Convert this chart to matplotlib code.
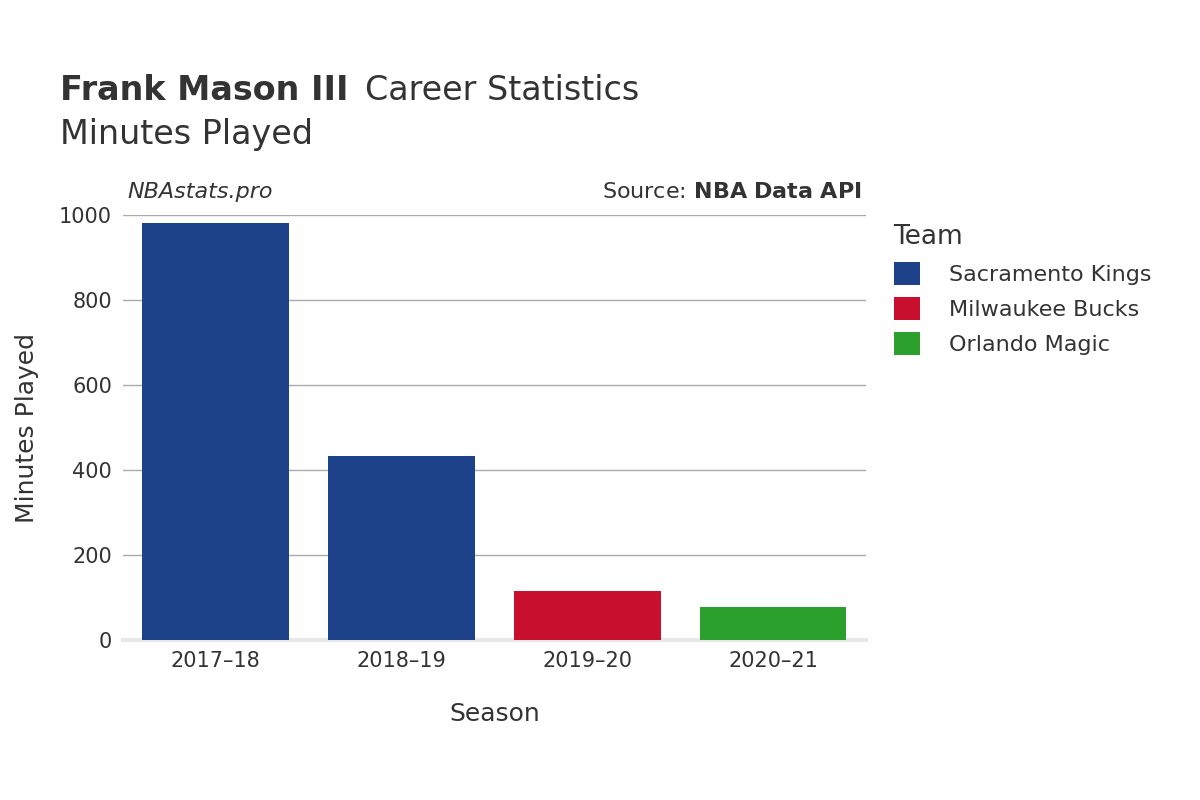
import matplotlib

matplotlib.use("Agg")
import matplotlib.pyplot as plt
from matplotlib.patches import Patch

seasons = ["2017–18", "2018–19", "2019–20", "2020–21"]
minutes = [981, 433, 115, 78]
teams = ["Sacramento Kings", "Sacramento Kings", "Milwaukee Bucks", "Orlando Magic"]
team_colors = {
    "Sacramento Kings": "#1d4289",
    "Milwaukee Bucks": "#c8102e",
    "Orlando Magic": "#2ca02c",
}
yticks = [0, 200, 400, 600, 800, 1000]

plt.rcParams["font.family"] = "DejaVu Sans"
txt = "#333333"

fig = plt.figure(figsize=(12, 8), dpi=100)
ax = fig.add_axes([0.1025, 0.2, 0.619, 0.531])

ax.bar(range(len(seasons)), minutes, width=0.79,
       color=[team_colors[t] for t in teams], zorder=3)
ax.set_xlim(-0.5, len(seasons) - 0.5)
ax.set_ylim(0, 1000)
ax.set_yticks(yticks)
ax.set_yticklabels([str(v) for v in yticks], fontsize=15, color=txt)
ax.set_xticks(range(len(seasons)))
ax.set_xticklabels(seasons, fontsize=15, color=txt)
ax.grid(axis="y", color="#aaaaaa", linewidth=1, zorder=0)
for s in ["top", "right", "left"]:
    ax.spines[s].set_visible(False)
ax.spines["bottom"].set_color("#e8e8e8")
ax.spines["bottom"].set_linewidth(3)
ax.tick_params(length=0, pad=8)
ax.set_xlabel("Season", fontsize=18, color=txt, labelpad=22)
ax.set_ylabel("Minutes Played", fontsize=18, color=txt, labelpad=14)

fig.text(0.05, 0.875, "Frank Mason III", fontsize=24, fontweight="bold", color=txt)
fig.text(0.304, 0.875, "Career Statistics", fontsize=24, color=txt)
fig.text(0.05, 0.82, "Minutes Played", fontsize=24, color=txt)
fig.text(0.106, 0.752, "NBAstats.pro", fontsize=16, style="italic", color=txt)
fig.text(0.718, 0.752, "Source: $\\bf{NBA\\ Data\\ API}$", fontsize=16, color=txt, ha="right")

handles = [Patch(facecolor=c, label=t) for t, c in team_colors.items()]
leg = fig.legend(handles=handles, title="Team", loc="upper left",
                 bbox_to_anchor=(0.728, 0.745), frameon=False, fontsize=16,
                 title_fontsize=19, handlelength=1.2, handleheight=1.2,
                 labelspacing=0.55, handletextpad=1.3, labelcolor=txt)
leg.get_title().set_color(txt)
leg._legend_box.align = "left"

fig.savefig("out.png", dpi=100)
